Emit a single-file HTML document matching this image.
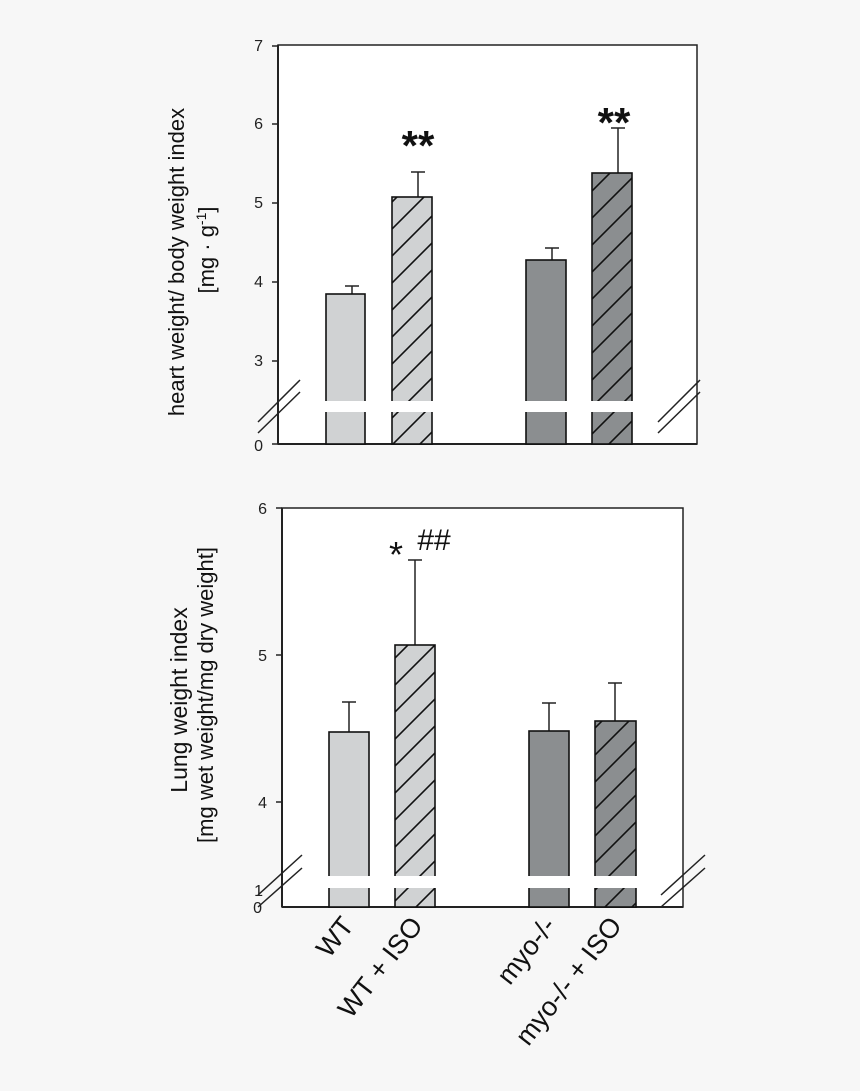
<!DOCTYPE html>
<html><head><style>body{margin:0;background:#f7f7f7}svg{display:block}</style></head>
<body>
<svg width="860" height="1091" xmlns="http://www.w3.org/2000/svg" font-family="Liberation Sans, Arial, sans-serif">
<defs>
<pattern id="hL" patternUnits="userSpaceOnUse" width="27" height="27">
<rect width="27" height="27" fill="#d0d2d3"/>
<path d="M-2,29 L29,-2 M-2,2 L2,-2 M25,29 L29,25" stroke="#111" stroke-width="1.6"/>
</pattern>
<pattern id="hD" patternUnits="userSpaceOnUse" width="27" height="27">
<rect width="27" height="27" fill="#8b8e90"/>
<path d="M-2,29 L29,-2 M-2,2 L2,-2 M25,29 L29,25" stroke="#111" stroke-width="1.6"/>
</pattern>
</defs>
<rect width="860" height="1091" fill="#f7f7f7"/>

<!-- TOP CHART -->
<rect x="278" y="45" width="419" height="399" fill="#fff" stroke="#222" stroke-width="1.5"/>
<g stroke="#222" stroke-width="1.5">
<line x1="278" y1="444" x2="697" y2="444" stroke-width="2"/>
<line x1="278" y1="45" x2="278" y2="444" stroke-width="2"/>
<line x1="272" y1="46" x2="278" y2="46"/><line x1="272" y1="124" x2="278" y2="124"/>
<line x1="272" y1="203" x2="278" y2="203"/><line x1="272" y1="282" x2="278" y2="282"/>
<line x1="272" y1="361" x2="278" y2="361"/><line x1="272" y1="444" x2="278" y2="444"/>
</g>
<g font-size="16" fill="#222" text-anchor="end">
<text x="263" y="51">7</text><text x="263" y="129">6</text><text x="263" y="208">5</text>
<text x="263" y="287">4</text><text x="263" y="366">3</text><text x="263" y="451">0</text>
</g>
<g stroke="#222" stroke-width="1.5">
<line x1="352" y1="294" x2="352" y2="286"/><line x1="345" y1="286" x2="359" y2="286"/>
<line x1="418" y1="197" x2="418" y2="172"/><line x1="411" y1="172" x2="425" y2="172"/>
<line x1="552" y1="260" x2="552" y2="248"/><line x1="545" y1="248" x2="559" y2="248"/>
<line x1="618" y1="173" x2="618" y2="128"/><line x1="611" y1="128" x2="625" y2="128"/>
</g>
<g stroke="#111" stroke-width="1.6">
<rect x="326" y="294" width="39" height="150" fill="#d0d2d3"/>
<rect x="392" y="197" width="40" height="247" fill="url(#hL)"/>
<rect x="526" y="260" width="40" height="184" fill="#8b8e90"/>
<rect x="592" y="173" width="40" height="271" fill="url(#hD)"/>
</g>
<rect x="279" y="401" width="417" height="11" fill="#fff"/>
<g stroke="#222" stroke-width="1.5">
<line x1="258" y1="422" x2="300" y2="380"/><line x1="258" y1="433" x2="300" y2="392"/>
<line x1="658" y1="422" x2="700" y2="380"/><line x1="658" y1="433" x2="700" y2="392"/>
</g>
<text x="418" y="160" font-size="42" font-weight="bold" text-anchor="middle" fill="#111">**</text>
<text x="614" y="137" font-size="42" font-weight="bold" text-anchor="middle" fill="#111">**</text>
<text transform="translate(184,262) rotate(-90)" font-size="22" text-anchor="middle" fill="#111">heart weight/ body weight index</text>
<text transform="translate(214,250) rotate(-90)" font-size="22" text-anchor="middle" fill="#111">[mg · g<tspan font-size="14" dy="-8">-1</tspan><tspan dy="8">]</tspan></text>

<!-- BOTTOM CHART -->
<rect x="282" y="508" width="401" height="399" fill="#fff" stroke="#222" stroke-width="1.5"/>
<g stroke="#222" stroke-width="1.5">
<line x1="282" y1="907" x2="683" y2="907" stroke-width="2"/>
<line x1="282" y1="508" x2="282" y2="907" stroke-width="2"/>
<line x1="276" y1="508" x2="282" y2="508"/><line x1="276" y1="655" x2="282" y2="655"/>
<line x1="276" y1="802" x2="282" y2="802"/>
</g>
<g font-size="16" fill="#222" text-anchor="end">
<text x="267" y="514">6</text><text x="267" y="661">5</text><text x="267" y="808">4</text>
<text x="263" y="896">1</text><text x="262" y="913">0</text>
</g>
<g stroke="#222" stroke-width="1.5">
<line x1="349" y1="732" x2="349" y2="702"/><line x1="342" y1="702" x2="356" y2="702"/>
<line x1="415" y1="645" x2="415" y2="560"/><line x1="408" y1="560" x2="422" y2="560"/>
<line x1="549" y1="731" x2="549" y2="703"/><line x1="542" y1="703" x2="556" y2="703"/>
<line x1="615" y1="721" x2="615" y2="683"/><line x1="608" y1="683" x2="622" y2="683"/>
</g>
<g stroke="#111" stroke-width="1.6">
<rect x="329" y="732" width="40" height="175" fill="#d0d2d3"/>
<rect x="395" y="645" width="40" height="262" fill="url(#hL)"/>
<rect x="529" y="731" width="40" height="176" fill="#8b8e90"/>
<rect x="595" y="721" width="41" height="186" fill="url(#hD)"/>
</g>
<rect x="283" y="876" width="399" height="12" fill="#fff"/>
<g stroke="#222" stroke-width="1.5">
<line x1="258" y1="895" x2="302" y2="855"/><line x1="258" y1="907" x2="302" y2="868"/>
<line x1="661" y1="895" x2="705" y2="855"/><line x1="661" y1="907" x2="705" y2="868"/>
</g>
<text x="396" y="567" font-size="36" text-anchor="middle" fill="#111">*</text>
<text x="434" y="550" font-size="30" text-anchor="middle" fill="#111">##</text>
<text transform="translate(187,700) rotate(-90)" font-size="23" text-anchor="middle" fill="#111">Lung weight index</text>
<text transform="translate(213,695) rotate(-90)" font-size="22" text-anchor="middle" fill="#111">[mg wet weight/mg dry weight]</text>

<g font-size="27" fill="#111" text-anchor="end">
<text transform="translate(355,926) rotate(-52)">WT</text>
<text transform="translate(424,926) rotate(-52)">WT + ISO</text>
<text transform="translate(557,926) rotate(-52)">myo-/-</text>
<text transform="translate(623,926) rotate(-52)">myo-/- + ISO</text>
</g>
</svg>
</body></html>
